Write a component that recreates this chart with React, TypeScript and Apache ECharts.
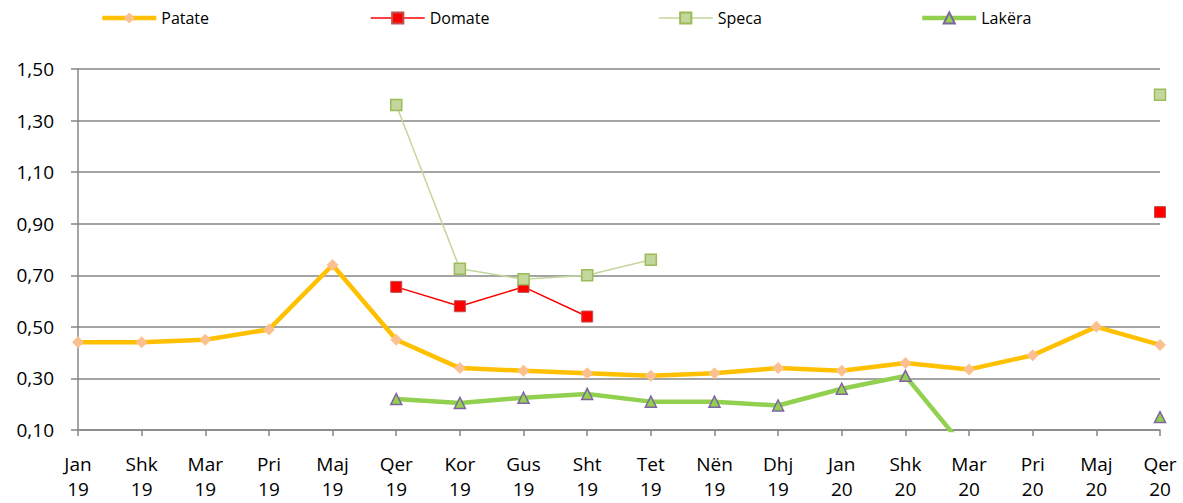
import React, { useEffect, useRef } from "react";
import * as echarts from "echarts";

const categories = [
  "Jan\n19", "Shk\n19", "Mar\n19", "Pri\n19", "Maj\n19", "Qer\n19",
  "Kor\n19", "Gus\n19", "Sht\n19", "Tet\n19", "Nën\n19", "Dhj\n19",
  "Jan\n20", "Shk\n20", "Mar\n20", "Pri\n20", "Maj\n20", "Qer\n20",
];

const patate = [0.44, 0.44, 0.45, 0.49, 0.74, 0.45, 0.34, 0.33, 0.32, 0.31, 0.32, 0.34, 0.33, 0.36, 0.335, 0.39, 0.5, 0.43];
const domate = [null, null, null, null, null, 0.655, 0.58, 0.655, 0.54, null, null, null, null, null, null, null, null, 0.945];
const speca = [null, null, null, null, null, 1.36, 0.725, 0.685, 0.7, 0.76, null, null, null, null, null, null, null, 1.4];
const lakera = [null, null, null, null, null, 0.22, 0.205, 0.225, 0.24, 0.21, 0.21, 0.195, 0.26, 0.31, 0.01, null, null, 0.15];

const yTicks = { min: 0.1, max: 1.5, interval: 0.2 };

const FONT = "Open Sans";

export default function App() {
  const ref = useRef<HTMLDivElement>(null);
  useEffect(() => {
    document.body.style.margin = "0";
    const chart = echarts.init(ref.current!, undefined, { renderer: "svg" });
    const legendBase = {
      top: 10,
      itemWidth: 54,
      itemHeight: 14,
      textStyle: { fontFamily: FONT, fontSize: 16, color: "#000" },
      lineStyle: { width: "inherit" },
      padding: 0,
    };
    chart.setOption({
      animation: false,
      backgroundColor: "#fff",
      legend: [
        { ...legendBase, left: 100, data: ["Patate"] },
        { ...legendBase, left: 370, data: ["Domate"] },
        { ...legendBase, left: 658, data: ["Speca"] },
        { ...legendBase, left: 920, data: ["Lakëra"] },
      ],
      grid: {
        left: 78,
        right: 23,
        top: 69,
        bottom: 73,
        containLabel: false,
        outerBoundsMode: "none",
      },
      xAxis: {
        type: "category",
        data: categories,
        boundaryGap: false,
        axisLine: { lineStyle: { color: "#868686", width: 1.5 } },
        axisTick: { show: true, length: 6, lineStyle: { color: "#868686", width: 1.5 } },
        axisLabel: {
          interval: 0,
          fontFamily: FONT,
          fontSize: 19,
          color: "#000",
          lineHeight: 25,
          margin: 21,
        },
        splitLine: { show: false },
      },
      yAxis: {
        type: "value",
        min: yTicks.min,
        max: yTicks.max,
        interval: yTicks.interval,
        axisLine: { show: true, lineStyle: { color: "#868686", width: 1.5 } },
        axisTick: { show: true, length: 7, lineStyle: { color: "#868686", width: 1.5 } },
        axisLabel: {
          fontFamily: FONT,
          fontSize: 19,
          color: "#000",
          margin: 24,
          formatter: (v: number) => v.toFixed(2).replace(".", ","),
        },
        splitLine: { show: true, lineStyle: { color: "#868686", width: 1.5 } },
      },
      series: [
        {
          name: "Patate",
          type: "line",
          data: patate,
          lineStyle: { color: "#FFC000", width: 4.5 },
          itemStyle: { color: "#FAC090" },
          symbol: "diamond",
          symbolSize: 12,
          z: 3,
        },
        {
          name: "Domate",
          type: "line",
          data: domate,
          lineStyle: { color: "#FF0000", width: 1.5 },
          itemStyle: { color: "#FF0000", borderColor: "#C0504D", borderWidth: 1 },
          symbol: "rect",
          symbolSize: 11,
          z: 4,
        },
        {
          name: "Speca",
          type: "line",
          data: speca,
          lineStyle: { color: "#C3D69B", width: 1.5 },
          itemStyle: { color: "#C3D69B", borderColor: "#9BBB59", borderWidth: 1.5 },
          symbol: "rect",
          symbolSize: 11,
          z: 4,
        },
        {
          name: "Lakëra",
          type: "line",
          data: lakera,
          lineStyle: { color: "#92D050", width: 4.5 },
          itemStyle: { color: "#92D050", borderColor: "#8064A2", borderWidth: 1.5 },
          symbol: "triangle",
          symbolSize: 11,
          clip: true,
          z: 3,
        },
      ],
    });
    return () => chart.dispose();
  }, []);
  return (
    <div
      ref={ref}
      style={{ position: "absolute", left: 0, top: 0, width: 1183, height: 503 }}
    />
  );
}
